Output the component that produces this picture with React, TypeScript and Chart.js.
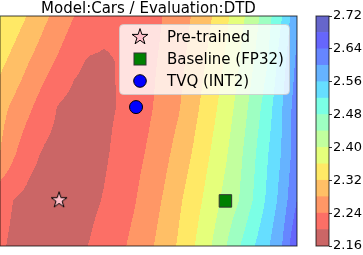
import React, { useEffect, useRef } from 'react';
import { Chart, registerables } from 'chart.js';
Chart.register(...registerables);

// ---- data ----
const chartTitle = 'Model:Cars / Evaluation:DTD';
const gridX = [0, 0.5, 1, 1.5, 2, 2.5, 3, 3.5, 4, 4.5, 5, 5.5, 6, 6.5, 7, 7.5, 8, 8.5, 9, 9.5, 10];
const gridY = [0, 2, 4, 6, 8, 10];
const zRow0 = [2.205, 2.193, 2.187, 2.185, 2.187, 2.192, 2.201, 2.214, 2.230, 2.250, 2.271, 2.296, 2.324, 2.356, 2.391, 2.429, 2.473, 2.514, 2.553, 2.601, 2.680];
const zRow1 = [2.212, 2.1985, 2.189, 2.1835, 2.182, 2.1847, 2.1914, 2.202, 2.217, 2.236, 2.259, 2.283, 2.312, 2.341, 2.372, 2.406, 2.436, 2.479, 2.527, 2.577, 2.640];
const zRow2 = [2.280, 2.242, 2.211, 2.195, 2.188, 2.185, 2.187, 2.195, 2.209, 2.226, 2.245, 2.268, 2.294, 2.323, 2.356, 2.388, 2.425, 2.469, 2.517, 2.564, 2.625];
const zRow3 = [2.294, 2.269, 2.245, 2.218, 2.196, 2.187, 2.186, 2.192, 2.202, 2.218, 2.234, 2.254, 2.276, 2.307, 2.339, 2.373, 2.410, 2.454, 2.500, 2.559, 2.624];
const zRow4 = [2.330, 2.305, 2.279, 2.255, 2.232, 2.208, 2.196, 2.194, 2.202, 2.216, 2.2305, 2.247, 2.268, 2.2935, 2.325, 2.358, 2.3945, 2.436, 2.478, 2.543, 2.609];
const zRow5 = [2.363, 2.3395, 2.315, 2.288, 2.264, 2.240, 2.226, 2.215, 2.210, 2.213, 2.224, 2.241, 2.2615, 2.283, 2.311, 2.3435, 2.381, 2.420, 2.463, 2.520, 2.595];
const levels = [2.16, 2.20, 2.24, 2.28, 2.32, 2.36, 2.40, 2.44, 2.48, 2.52, 2.56, 2.60, 2.64, 2.68, 2.72];
const colorbarTicks = [2.16, 2.24, 2.32, 2.40, 2.48, 2.56, 2.64, 2.72];
const seriesNames = ['Pre-trained', 'Baseline (FP32)', 'TVQ (INT2)'];
const pretrainedPoint = [{ x: 1.99, y: 1.99 }];
const baselinePoint = [{ x: 7.59, y: 1.96 }];
const tvqPoint = [{ x: 4.58, y: 6.04 }];

const zGrid = [zRow0, zRow1, zRow2, zRow3, zRow4, zRow5];

// ---- jet_r colormap with alpha 0.6 over white ----
const jetR = [[0, 0], [0.35, 0], [0.66, 1], [0.89, 1], [1, 0.5]];
const jetG = [[0, 0], [0.125, 0], [0.375, 1], [0.64, 1], [0.91, 0], [1, 0]];
const jetB = [[0, 0.5], [0.11, 1], [0.34, 1], [0.65, 0], [1, 0]];
function seg(s: number[][], t: number) {
  for (let i = 0; i < s.length - 1; i++) {
    if (t <= s[i + 1][0]) {
      const f = (t - s[i][0]) / (s[i + 1][0] - s[i][0]);
      return s[i][1] + f * (s[i + 1][1] - s[i][1]);
    }
  }
  return s[s.length - 1][1];
}
function bandRGB(i: number): number[] {
  const n = levels.length - 1;
  let t = 1 - (i + 0.5) / n;
  t = Math.min(255, Math.floor(t * 256)) / 255;
  const a = 0.6;
  return [seg(jetR, t), seg(jetG, t), seg(jetB, t)].map((c) => Math.round(255 * (c * a + (1 - a))));
}
const bandColors = levels.slice(0, -1).map((_, i) => bandRGB(i));
const bandCss = bandColors.map((c) => `rgb(${c[0]},${c[1]},${c[2]})`);

function sampleZ(x: number, y: number) {
  let i = 0;
  while (i < gridX.length - 2 && x > gridX[i + 1]) i++;
  let j = 0;
  while (j < gridY.length - 2 && y > gridY[j + 1]) j++;
  const tx = Math.max(0, Math.min(1, (x - gridX[i]) / (gridX[i + 1] - gridX[i])));
  const ty = Math.max(0, Math.min(1, (y - gridY[j]) / (gridY[j + 1] - gridY[j])));
  const a = zGrid[j][i] * (1 - tx) + zGrid[j][i + 1] * tx;
  const b = zGrid[j + 1][i] * (1 - tx) + zGrid[j + 1][i + 1] * tx;
  return a * (1 - ty) + b * ty;
}

function makeStar(size: number, R: number) {
  const c = document.createElement('canvas');
  c.width = size;
  c.height = size;
  const g = c.getContext('2d')!;
  const cx = size / 2, cy = size / 2, r = R * 0.381966;
  g.beginPath();
  for (let k = 0; k < 10; k++) {
    const ang = -Math.PI / 2 + (k * Math.PI) / 5;
    const rr = k % 2 === 0 ? R : r;
    const px = cx + rr * Math.cos(ang), py = cy + rr * Math.sin(ang);
    if (k === 0) g.moveTo(px, py); else g.lineTo(px, py);
  }
  g.closePath();
  g.fillStyle = '#ffc0cb';
  g.fill();
  g.lineWidth = 1;
  g.strokeStyle = '#000';
  g.lineJoin = 'miter';
  g.stroke();
  return c;
}

const FONT = '"DejaVu Sans", sans-serif';

export default function App() {
  const mainRef = useRef<HTMLCanvasElement>(null);
  const cbRef = useRef<HTMLCanvasElement>(null);

  useEffect(() => {
    const star = makeStar(20, 8.4);

    const contourPlugin = {
      id: 'contour',
      beforeDatasetsDraw(chart: any) {
        const { ctx, chartArea: a, scales } = chart;
        const w = Math.round(a.right - a.left), h = Math.round(a.bottom - a.top);
        const off = document.createElement('canvas');
        off.width = w;
        off.height = h;
        const o = off.getContext('2d')!;
        const img = o.createImageData(w, h);
        for (let j = 0; j < h; j++) {
          const yv = scales.y.getValueForPixel(a.top + j + 0.5);
          for (let i = 0; i < w; i++) {
            const xv = scales.x.getValueForPixel(a.left + i + 0.5);
            const z = sampleZ(xv, yv);
            let k = -1;
            for (let m = 0; m < levels.length - 1; m++) {
              if (z >= levels[m] && z < levels[m + 1]) { k = m; break; }
            }
            if (k < 0) k = z < levels[0] ? 0 : levels.length - 2;
            const c = bandColors[k];
            const p = (j * w + i) * 4;
            img.data[p] = c[0];
            img.data[p + 1] = c[1];
            img.data[p + 2] = c[2];
            img.data[p + 3] = 255;
          }
        }
        o.putImageData(img, 0, 0);
        ctx.drawImage(off, a.left, a.top);
      },
    };

    const overlayPlugin = {
      id: 'overlay',
      afterDatasetsDraw(chart: any) {
        const { ctx, chartArea: a } = chart;
        ctx.save();
        // frame
        ctx.strokeStyle = 'rgba(0,0,0,0.75)';
        ctx.lineWidth = 1;
        ctx.strokeRect(a.left, a.top, a.right - a.left, a.bottom - a.top);
        // title
        ctx.fillStyle = '#000';
        ctx.font = `15px ${FONT}`;
        ctx.textAlign = 'center';
        ctx.textBaseline = 'alphabetic';
        ctx.fillText(chartTitle, (a.left + a.right) / 2, 13);
        // legend box
        const bx = 119.5, by = 24.5, bw = 170, bh = 70, rad = 4;
        ctx.beginPath();
        ctx.moveTo(bx + rad, by);
        ctx.lineTo(bx + bw - rad, by);
        ctx.arcTo(bx + bw, by, bx + bw, by + rad, rad);
        ctx.lineTo(bx + bw, by + bh - rad);
        ctx.arcTo(bx + bw, by + bh, bx + bw - rad, by + bh, rad);
        ctx.lineTo(bx + rad, by + bh);
        ctx.arcTo(bx, by + bh, bx, by + bh - rad, rad);
        ctx.lineTo(bx, by + rad);
        ctx.arcTo(bx, by, bx + rad, by, rad);
        ctx.closePath();
        ctx.fillStyle = 'rgba(255,255,255,0.8)';
        ctx.fill();
        ctx.strokeStyle = 'rgba(204,204,204,0.8)';
        ctx.stroke();
        // legend entries
        const mx = 140, rows = [37, 59, 81];
        ctx.drawImage(star, mx - star.width / 2, rows[0] - star.height / 2);
        ctx.fillStyle = '#008000';
        ctx.strokeStyle = '#333';
        ctx.fillRect(mx - 6, rows[1] - 6, 12, 12);
        ctx.strokeRect(mx - 6, rows[1] - 6, 12, 12);
        ctx.beginPath();
        ctx.arc(mx, rows[2], 6.3, 0, Math.PI * 2);
        ctx.fillStyle = '#0000ff';
        ctx.fill();
        ctx.strokeStyle = '#000';
        ctx.stroke();
        ctx.fillStyle = '#000';
        ctx.font = `15px ${FONT}`;
        ctx.textAlign = 'left';
        seriesNames.forEach((s, i) => ctx.fillText(s, 167, rows[i] + 5));
        ctx.restore();
      },
    };

    const main = new Chart(mainRef.current!, {
      type: 'scatter',
      data: {
        datasets: [
          { label: seriesNames[0], data: pretrainedPoint, pointStyle: star as any, pointRadius: 8 },
          { label: seriesNames[1], data: baselinePoint, pointStyle: 'rect', pointRadius: 8.8, backgroundColor: '#008000', borderColor: '#333', borderWidth: 1 },
          { label: seriesNames[2], data: tvqPoint, pointStyle: 'circle', pointRadius: 6.5, backgroundColor: '#0000ff', borderColor: '#000', borderWidth: 1 },
        ],
      },
      options: {
        animation: false,
        responsive: false,
        devicePixelRatio: 1,
        events: [],
        layout: { autoPadding: false, padding: { left: 0, top: 16, right: 3, bottom: 9 } },
        scales: {
          x: { type: 'linear', display: false, min: 0, max: 10 },
          y: { type: 'linear', display: false, min: 0, max: 10 },
        },
        plugins: { legend: { display: false }, tooltip: { enabled: false } },
      },
      plugins: [contourPlugin, overlayPlugin],
    } as any);

    const cbFrame = {
      id: 'cbframe',
      afterDatasetsDraw(chart: any) {
        const { ctx, chartArea: a } = chart;
        ctx.save();
        ctx.strokeStyle = 'rgba(0,0,0,0.75)';
        ctx.lineWidth = 1;
        ctx.strokeRect(a.left, a.top, a.right - a.left, a.bottom - a.top);
        ctx.restore();
      },
    };

    const cb = new Chart(cbRef.current!, {
      type: 'bar',
      data: {
        labels: [''],
        datasets: levels.slice(0, -1).map((lv, i) => ({
          label: String(lv),
          data: [[levels[i], levels[i + 1]]],
          backgroundColor: bandCss[i],
          borderWidth: 0,
          barPercentage: 1,
          categoryPercentage: 1,
          grouped: false,
        })),
      },
      options: {
        animation: false,
        responsive: false,
        devicePixelRatio: 1,
        events: [],
        layout: { autoPadding: false, padding: { left: 16, top: 16, right: 0, bottom: 9 } },
        scales: {
          x: { display: false },
          y: {
            position: 'right',
            min: levels[0],
            max: levels[levels.length - 1],
            afterBuildTicks: (s: any) => { s.ticks = colorbarTicks.map((v) => ({ value: v })); },
            afterFit: (s: any) => { s.width = 34; },
            grid: { display: true, drawOnChartArea: false, drawTicks: true, tickLength: 3, color: '#333' },
            border: { display: false },
            ticks: {
              padding: 1,
              color: '#000',
              font: { family: FONT, size: 13 },
              callback: (v: any) => Number(v).toFixed(2),
            },
          },
        },
        plugins: { legend: { display: false }, tooltip: { enabled: false } },
      },
      plugins: [cbFrame],
    } as any);

    return () => {
      main.destroy();
      cb.destroy();
    };
  }, []);

  return (
    <div style={{ position: 'absolute', left: 0, top: 0, width: 363, height: 255, background: '#fff', overflow: 'hidden' }}>
      <canvas ref={mainRef} width={300} height={255} style={{ position: 'absolute', left: 0, top: 0, width: 300, height: 255 }} />
      <canvas ref={cbRef} width={63} height={255} style={{ position: 'absolute', left: 300, top: 0, width: 63, height: 255 }} />
    </div>
  );
}
